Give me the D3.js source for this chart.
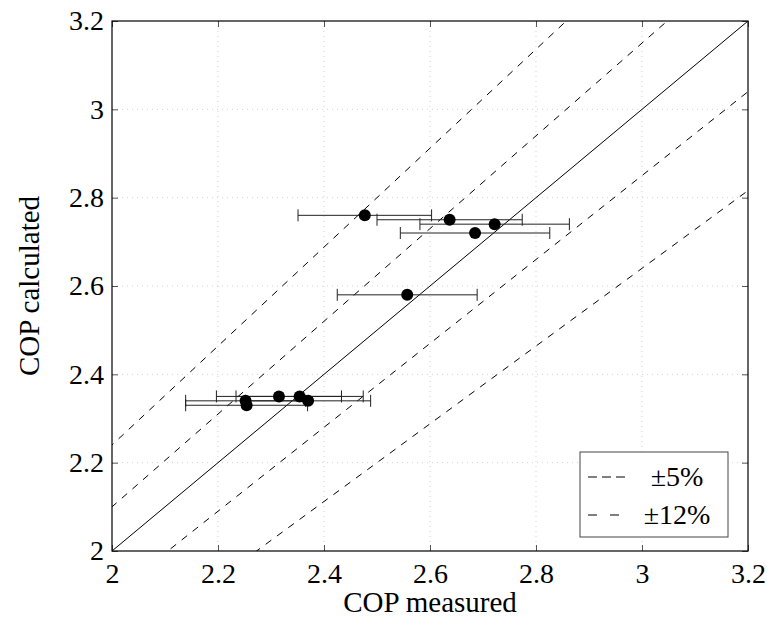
<!DOCTYPE html>
<html>
<head>
<meta charset="utf-8">
<script src="https://cdn.jsdelivr.net/npm/d3@7"></script>
<style>
  body { margin: 0; background: #fff; }
</style>
</head>
<body>
<div id="chart"></div>
<script>
const measured   = [2.477, 2.637, 2.722, 2.685, 2.557, 2.315, 2.354, 2.370, 2.252, 2.254];
const calculated = [2.76, 2.75, 2.74, 2.72, 2.58, 2.35, 2.35, 2.34, 2.34, 2.33];
const xErr       = [0.126, 0.137, 0.141, 0.141, 0.132, 0.118, 0.120, 0.118, 0.113, 0.115];
const tickValues = [2, 2.2, 2.4, 2.6, 2.8, 3, 3.2];
const bandFactors = [1.05, 0.95, 1.12, 0.88];
const legendLabels = ['\u00b15%', '\u00b112%'];

const FONT = '"Liberation Serif", "Times New Roman", serif';
const width = 770;
const height = 631;
const margin = { top: 21, right: 22, bottom: 80, left: 112 };

const xScale = d3.scaleLinear()
    .domain([2, 3.2])
    .range([margin.left, width - margin.right]);

const yScale = d3.scaleLinear()
    .domain([2, 3.2])
    .range([height - margin.bottom, margin.top]);

const svg = d3.select('#chart')
    .append('svg')
    .attr('width', width)
    .attr('height', height);

const x0 = xScale(2), x1 = xScale(3.2), y0 = yScale(2), y1 = yScale(3.2);

svg.append('clipPath').attr('id', 'plotClip')
    .append('rect')
    .attr('x', x0).attr('y', y1)
    .attr('width', x1 - x0).attr('height', y0 - y1);

// grid
svg.append('g')
    .selectAll('line')
    .data(tickValues.slice(1, -1))
    .enter().append('line')
    .attr('x1', d => xScale(d)).attr('x2', d => xScale(d))
    .attr('y1', y1).attr('y2', y0)
    .attr('stroke', '#c8c8c8').attr('stroke-width', 0.8)
    .attr('stroke-dasharray', '1,4');

svg.append('g')
    .selectAll('line')
    .data(tickValues.slice(1, -1))
    .enter().append('line')
    .attr('y1', d => yScale(d)).attr('y2', d => yScale(d))
    .attr('x1', x0).attr('x2', x1)
    .attr('stroke', '#c8c8c8').attr('stroke-width', 0.8)
    .attr('stroke-dasharray', '1,4');

// reference lines
const lines = svg.append('g').attr('clip-path', 'url(#plotClip)');

lines.append('line')
    .attr('x1', xScale(2)).attr('y1', yScale(2))
    .attr('x2', xScale(3.2)).attr('y2', yScale(3.2))
    .attr('stroke', '#000').attr('stroke-width', 1);

lines.selectAll('line.band')
    .data(bandFactors)
    .enter().append('line')
    .attr('class', 'band')
    .attr('x1', xScale(1.8)).attr('y1', d => yScale(1.8 * d))
    .attr('x2', xScale(3.6)).attr('y2', d => yScale(3.6 * d))
    .attr('stroke', '#000').attr('stroke-width', 1)
    .attr('stroke-dasharray', '7,7');

// error bars
const pts = measured.map((m, i) => ({ x: m, y: calculated[i], e: xErr[i] }));

const eb = svg.append('g');
pts.forEach(p => {
    const yy = yScale(p.y);
    eb.append('line')
        .attr('x1', xScale(p.x - p.e)).attr('x2', xScale(p.x + p.e))
        .attr('y1', yy).attr('y2', yy)
        .attr('stroke', '#222').attr('stroke-width', 1);
    [p.x - p.e, p.x + p.e].forEach(v => {
        eb.append('line')
            .attr('x1', xScale(v)).attr('x2', xScale(v))
            .attr('y1', yy - 6).attr('y2', yy + 6)
            .attr('stroke', '#222').attr('stroke-width', 1);
    });
});

// points
svg.append('g')
    .selectAll('circle')
    .data(pts)
    .enter().append('circle')
    .attr('cx', d => xScale(d.x))
    .attr('cy', d => yScale(d.y))
    .attr('r', 6)
    .attr('fill', '#000');

// axes with inward ticks on all sides
const tickFmt = d => String(+d.toFixed(1));

const xAxis = svg.append('g')
    .attr('transform', `translate(0, ${y0})`)
    .call(d3.axisBottom(xScale).tickValues(tickValues).tickFormat(tickFmt).tickSizeInner(-6).tickSizeOuter(0).tickPadding(12));
xAxis.select('.domain').remove();
xAxis.selectAll('text').style('font-family', FONT).style('font-size', '28px').attr('fill', '#000');

svg.append('g')
    .attr('transform', `translate(0, ${y1})`)
    .call(d3.axisTop(xScale).tickValues(tickValues).tickFormat('').tickSizeInner(-6).tickSizeOuter(0))
    .select('.domain').remove();

const yAxis = svg.append('g')
    .attr('transform', `translate(${x0}, 0)`)
    .call(d3.axisLeft(yScale).tickValues(tickValues).tickFormat(tickFmt).tickSizeInner(-6).tickSizeOuter(0).tickPadding(8));
yAxis.select('.domain').remove();
yAxis.selectAll('text').style('font-family', FONT).style('font-size', '28px').attr('fill', '#000');

svg.append('g')
    .attr('transform', `translate(${x1}, 0)`)
    .call(d3.axisRight(yScale).tickValues(tickValues).tickFormat('').tickSizeInner(-6).tickSizeOuter(0))
    .select('.domain').remove();

svg.selectAll('.tick line').attr('stroke', '#555');

// frame
svg.append('rect')
    .attr('x', x0).attr('y', y1)
    .attr('width', x1 - x0).attr('height', y0 - y1)
    .attr('fill', 'none').attr('stroke', '#000').attr('stroke-width', 1.2);

// axis labels
svg.append('text')
    .attr('x', (x0 + x1) / 2).attr('y', 612)
    .attr('text-anchor', 'middle')
    .style('font-family', FONT).style('font-size', '29px')
    .text('COP measured');

svg.append('text')
    .attr('transform', `translate(39, ${(y0 + y1) / 2}) rotate(-90)`)
    .attr('text-anchor', 'middle')
    .style('font-family', FONT).style('font-size', '29px')
    .text('COP calculated');

// legend
const lg = svg.append('g').attr('transform', 'translate(580, 452)');
lg.append('rect')
    .attr('width', 148).attr('height', 85)
    .attr('fill', '#fff').attr('stroke', '#444').attr('stroke-width', 1);
const legendDash = ['9,5', '9,13'];
legendLabels.forEach((lab, i) => {
    const ly = 25 + i * 38;
    lg.append('line')
        .attr('x1', 8).attr('x2', 50)
        .attr('y1', ly).attr('y2', ly)
        .attr('stroke', '#000').attr('stroke-width', 1)
        .attr('stroke-dasharray', legendDash[i]);
    lg.append('text')
        .attr('x', 97).attr('y', ly + 9)
        .attr('text-anchor', 'middle')
        .style('font-family', FONT).style('font-size', '28px')
        .text(lab);
});
</script>
</body>
</html>
